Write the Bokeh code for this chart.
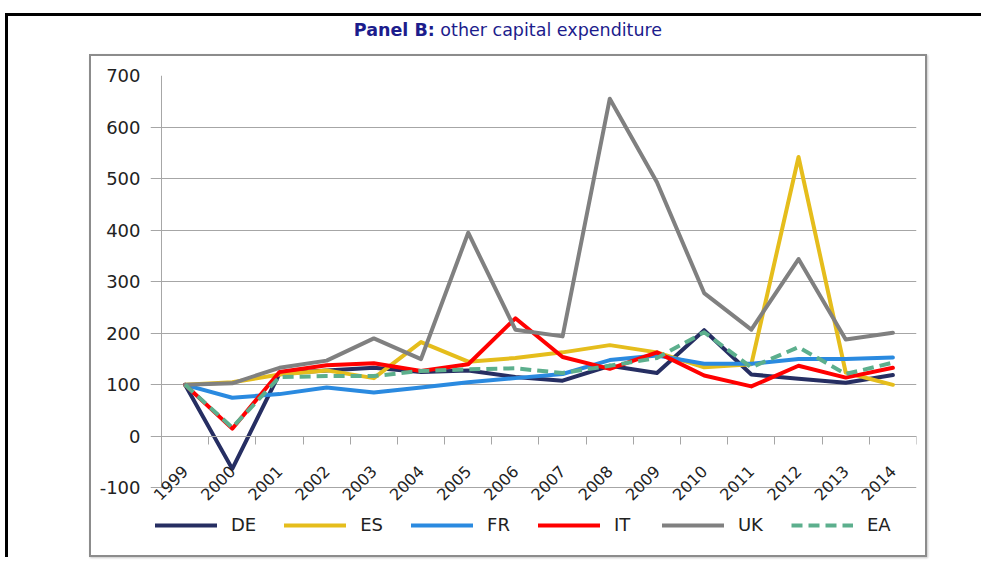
from math import pi
from bokeh.plotting import figure
from bokeh.models import Div, Legend, LegendItem, FixedTicker, ColumnDataSource, Range1d
from bokeh.layouts import column
from bokeh.embed import file_html
from bokeh.resources import INLINE

years = list(range(1999, 2015))
DE = [100, -63, 122, 128, 133, 125, 128, 115, 108, 137, 123, 206, 120, 112, 104, 119]
ES = [100, 105, 120, 128, 113, 183, 145, 152, 163, 177, 163, 134, 140, 542, 124, 100]
FR = [100, 75, 82, 95, 85, 95, 105, 113, 121, 148, 157, 141, 141, 150, 150, 153]
IT = [100, 15, 125, 138, 142, 127, 140, 229, 154, 131, 163, 118, 97, 137, 114, 133]
UK = [100, 103, 133, 147, 190, 150, 395, 207, 194, 655, 493, 278, 207, 344, 188, 201]
EA = [100, 17, 115, 117, 117, 127, 130, 132, 123, 137, 152, 202, 134, 173, 121, 143]
y_ticks = [-100, 0, 100, 200, 300, 400, 500, 600, 700]

series = ["DE", "ES", "FR", "IT", "UK", "EA"]
colors = {"DE": "#262E62", "ES": "#E5BD1C", "FR": "#2A8AE0", "IT": "#FF0000",
          "UK": "#808080", "EA": "#5CAF8D"}

src = ColumnDataSource(dict(year=years, DE=DE, ES=ES, FR=FR, IT=IT, UK=UK, EA=EA))

FONT = "DejaVu Sans"
GRID = "#A6A6A6"
x_lo, x_hi = years[0] - 0.5, years[-1] + 0.5

# frame extends a little left of the first category and below -100, so the
# rotated year labels and the legend sit inside it
p = figure(width=838, height=503, x_range=Range1d(x_lo - 0.233, x_hi),
           y_range=Range1d(-200, 700),
           output_backend="svg", toolbar_location=None,
           min_border_left=59, min_border_right=13, min_border_top=19, min_border_bottom=20,
           margin=(0, 0, 0, 81),
           styles={"border": "2px solid #8C8C8C", "box-shadow": "1px 1px 2px #C8C8C8"})
p.outline_line_color = None
p.background_fill_color = "white"
p.border_fill_color = "white"
p.xgrid.visible = False
p.ygrid.grid_line_color = GRID
p.ygrid.ticker = FixedTicker(ticks=y_ticks)

ya = p.yaxis[0]
ya.ticker = FixedTicker(ticks=y_ticks)
ya.major_label_overrides = {t: str(t) for t in y_ticks}
ya.axis_line_color = None
ya.major_tick_line_color = None
ya.major_tick_out = 0
ya.major_tick_in = 0
ya.minor_tick_line_color = None
ya.major_label_standoff = 10
ya.major_label_text_font = FONT
ya.major_label_text_font_size = "18px"
ya.major_label_text_color = "#222222"

# vertical value-axis line at the left edge of the first category
p.segment(x0=[x_lo], y0=[y_ticks[0]], x1=[x_lo], y1=[y_ticks[-1]],
          line_color=GRID, line_width=1)

xa = p.xaxis[0]
xa.fixed_location = 0
xa.bounds = (x_lo, x_hi)
xa.ticker = FixedTicker(ticks=years, minor_ticks=[y - 0.5 for y in years] + [x_hi])
xa.major_label_overrides = {y: str(y) for y in years}
xa.axis_line_color = GRID
xa.major_tick_line_color = None
xa.minor_tick_line_color = GRID
xa.minor_tick_out = 8
xa.minor_tick_in = 0
xa.major_label_orientation = pi / 4
xa.major_label_standoff = 24
xa.major_label_text_font = FONT
xa.major_label_text_font_size = "16px"
xa.major_label_text_color = "#222222"

renderers = {}
for s in series:
    if s == "EA":
        r = p.line("year", s, source=src, line_width=4, line_color=colors[s],
                   line_dash="11 6", line_join="round", line_cap="butt")
    else:
        r = p.line("year", s, source=src, line_width=4, line_color=colors[s],
                   line_join="round", line_cap="round")
    renderers[s] = r

legend = Legend(items=[LegendItem(label=s, renderers=[renderers[s]]) for s in series],
                orientation="horizontal", location=(5, 4),
                glyph_width=62, glyph_height=20, label_standoff=14, spacing=28,
                padding=0, margin=0, border_line_color=None, background_fill_alpha=0,
                label_text_font=FONT, label_text_font_size="18px",
                label_text_color="#222222")
p.add_layout(legend, "center")

title = Div(text='<b>Panel B:</b> other capital expenditure', width=838, height=38,
            margin=(0, 0, 0, 81),
            styles={"text-align": "center", "font-family": FONT, "font-size": "17.5px",
                    "color": "#1C1C8C", "line-height": "28px"})

root = column(title, p, width=976, margin=(13, 0, 0, 5),
              styles={"border-top": "3px solid black", "border-left": "3px solid black",
                      "background": "white"})

open("out.html", "w").write(file_html(root, INLINE))
